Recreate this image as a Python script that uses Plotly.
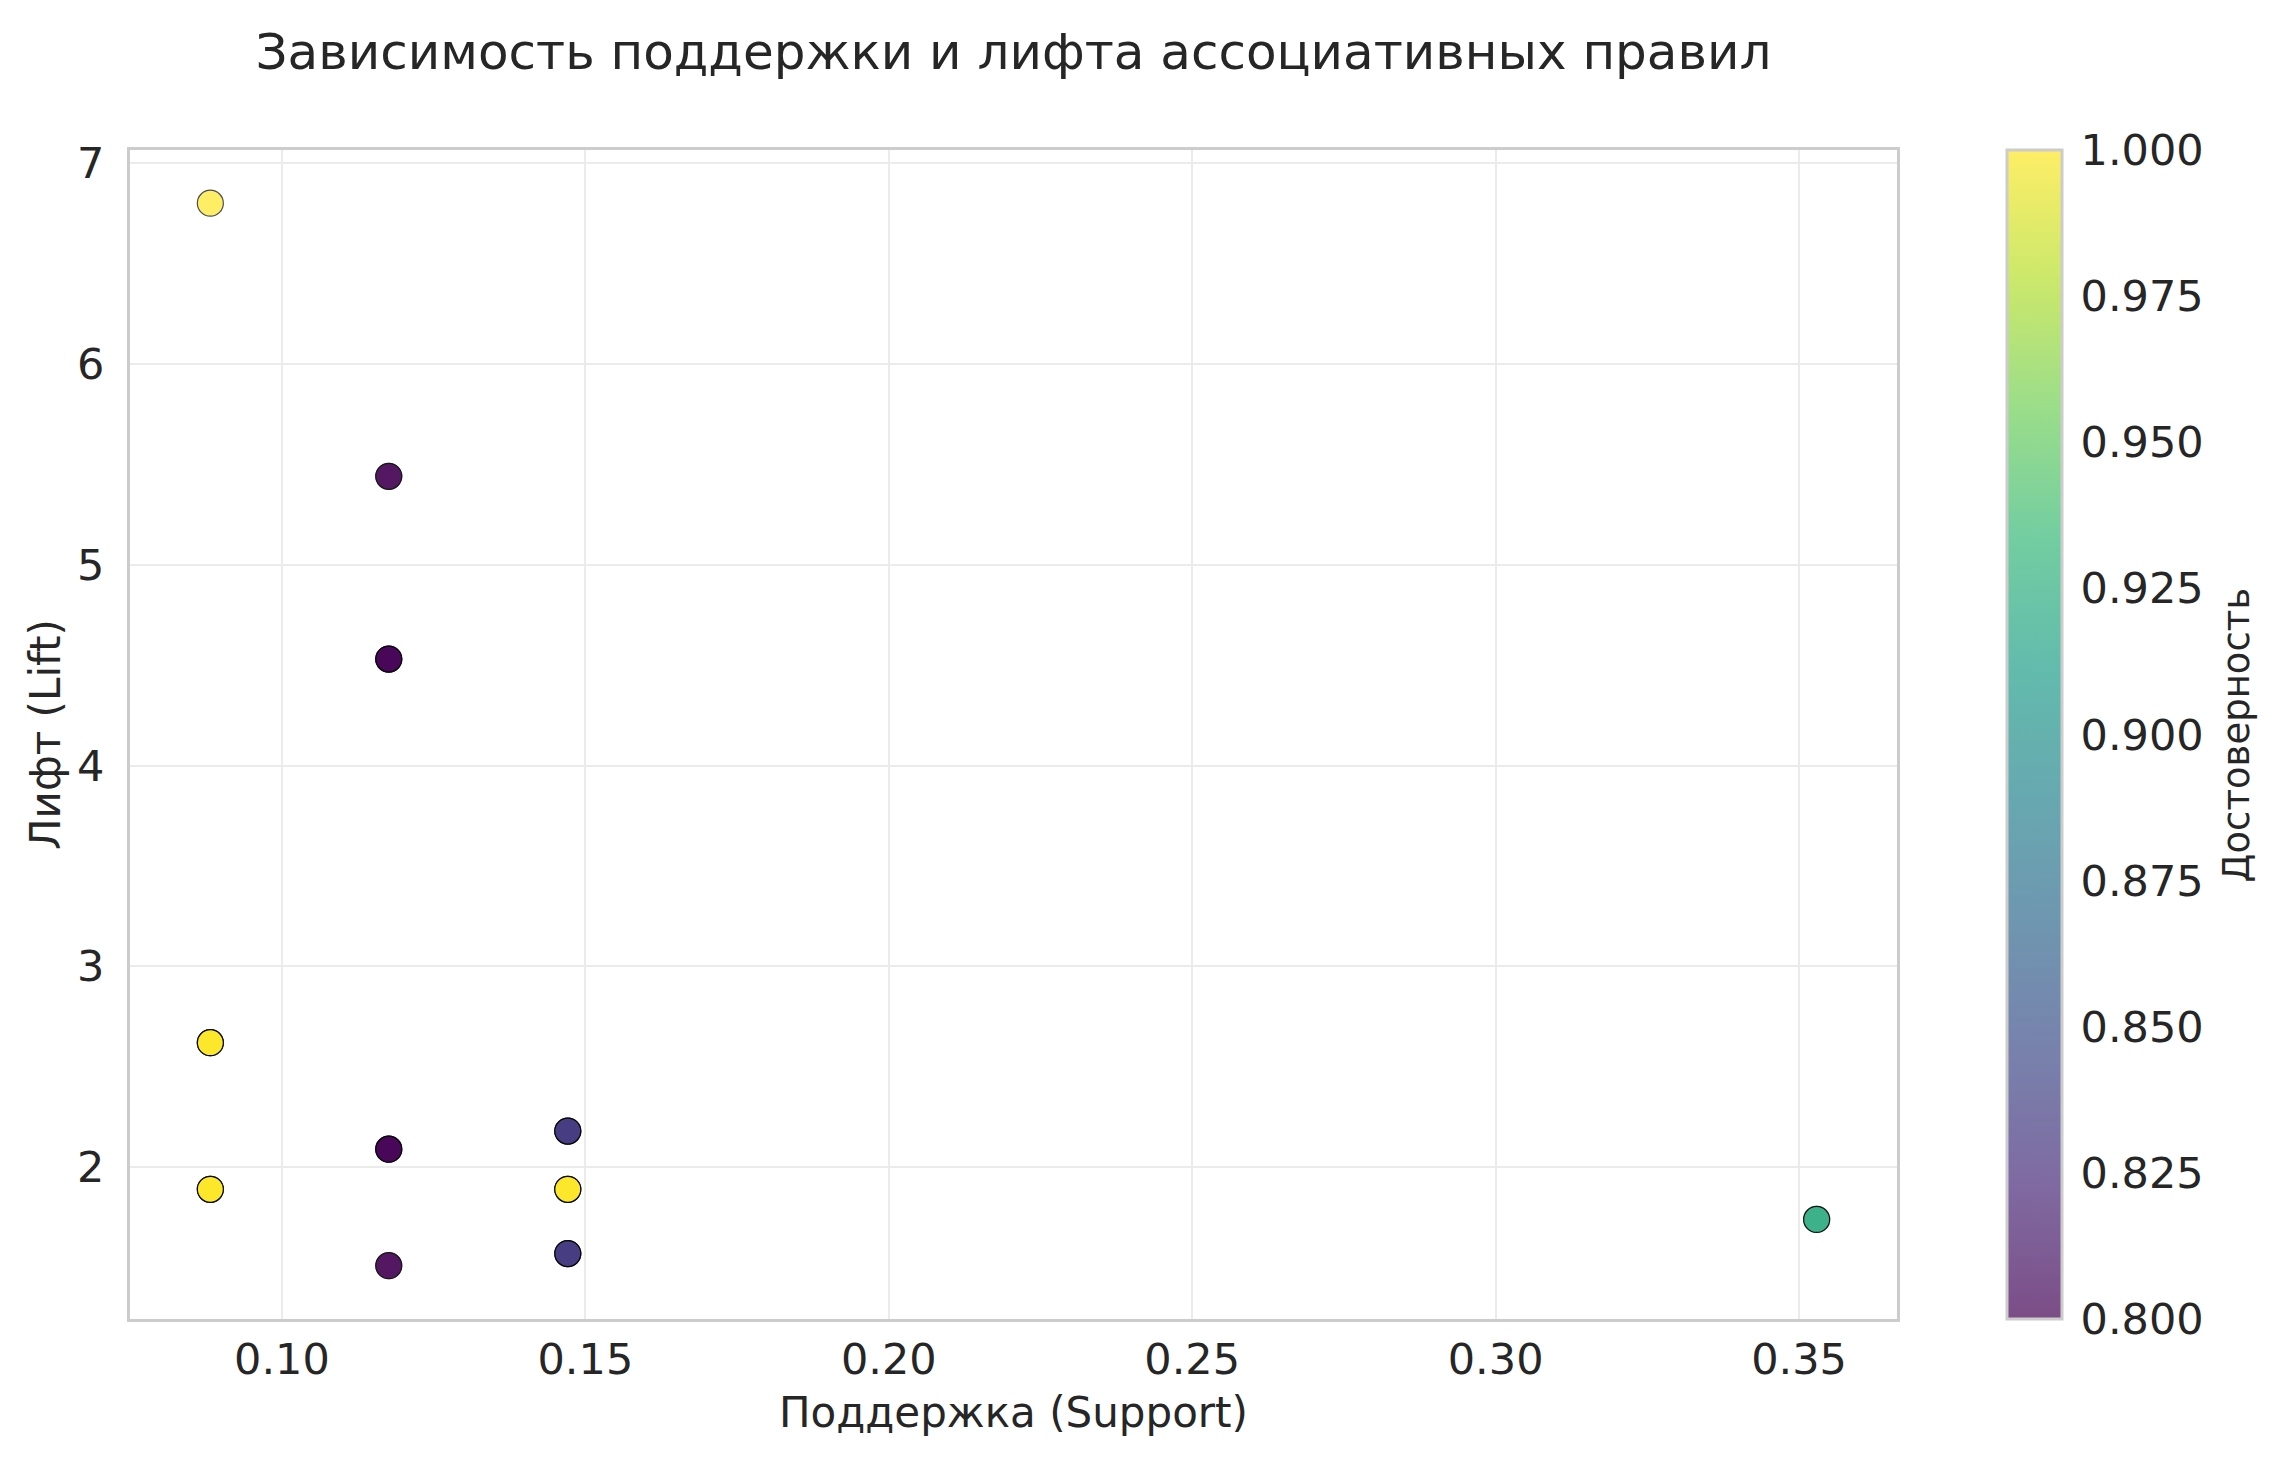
import plotly.graph_objects as go
from plotly.colors import sequential, hex_to_rgb

# правила: поддержка, лифт, достоверность (совпадающие правила повторены)
support = [0.0882, 0.1176, 0.1176, 0.1176, 0.1176, 0.1176,
           0.0882, 0.0882, 0.0882, 0.1176, 0.1176, 0.1176,
           0.1471, 0.1471, 0.1471, 0.0882, 0.0882, 0.0882,
           0.1471, 0.1471, 0.1471, 0.1176, 0.1176,
           0.1471, 0.1471, 0.1471, 0.3529, 0.3529]
lift = [6.80, 5.44, 5.44, 4.53, 4.53, 4.53,
        2.62, 2.62, 2.62, 2.09, 2.09, 2.09,
        2.18, 2.18, 2.18, 1.89, 1.89, 1.89,
        1.89, 1.89, 1.89, 1.51, 1.51,
        1.57, 1.57, 1.57, 1.74, 1.74]
confidence = [1.0, 0.8, 0.8, 0.8, 0.8, 0.8,
              1.0, 1.0, 1.0, 0.8, 0.8, 0.8,
              0.8333, 0.8333, 0.8333, 1.0, 1.0, 1.0,
              1.0, 1.0, 1.0, 0.8, 0.8,
              0.8333, 0.8333, 0.8333, 0.9231, 0.9231]

x_ticks = [0.10, 0.15, 0.20, 0.25, 0.30, 0.35]
y_ticks = [2, 3, 4, 5, 6, 7]
cbar_ticks = [0.8, 0.825, 0.85, 0.875, 0.9, 0.925, 0.95, 0.975, 1.0]

font = "DejaVu Sans"
text_col = "#262626"
alpha = 0.7

# выцветшая шкала для цветовой полосы (как alpha в matplotlib)
vir = sequential.Viridis
faded = []
for i, c in enumerate(vir):
    r, g, b = hex_to_rgb(c)
    r = round(alpha * r + (1 - alpha) * 255)
    g = round(alpha * g + (1 - alpha) * 255)
    b = round(alpha * b + (1 - alpha) * 255)
    faded.append([i / (len(vir) - 1), f"rgb({r},{g},{b})"])

fig = go.Figure()
fig.add_trace(go.Scatter(
    x=support, y=lift, mode="markers",
    marker=dict(size=26, color=confidence, colorscale="Viridis",
                cmin=0.8, cmax=1.0, opacity=alpha,
                line=dict(color="black", width=1.2)),
    showlegend=False, hoverinfo="x+y"))

# цветовая полоса
fig.add_trace(go.Scatter(
    x=[None], y=[None], mode="markers", showlegend=False,
    marker=dict(color=[0.8], colorscale=faded, cmin=0.8, cmax=1.0, showscale=True,
                colorbar=dict(
                    x=1.0622, xanchor="left", xpad=0, ypad=0,
                    y=0.5, len=1, thickness=55,
                    outlinecolor="#cccccc", outlinewidth=3,
                    tickvals=cbar_ticks, tickformat=".3f",
                    ticks="outside", ticklen=9, tickcolor="rgba(0,0,0,0)",
                    tickfont=dict(family=font, size=43, color=text_col)))))

fig.add_annotation(text="Достоверность", textangle=-90, showarrow=False,
                   xref="paper", yref="paper", x=1.1924, y=0.5,
                   xanchor="center", yanchor="middle",
                   font=dict(family=font, size=37, color=text_col))

fig.update_layout(
    width=2283, height=1465,
    margin=dict(l=130, r=386, t=150, b=146),
    paper_bgcolor="white", plot_bgcolor="white",
    font=dict(family=font, color=text_col),
    title=dict(text="Зависимость поддержки и лифта ассоциативных правил",
               x=0.5, xref="paper", y=1 - 51 / 1465, yref="container",
               yanchor="middle", font=dict(family=font, size=50, color=text_col)),
)
fig.update_xaxes(
    range=[0.07496, 0.36614], tickvals=x_ticks, tickformat=".2f",
    showgrid=True, gridcolor="#ebebeb", gridwidth=2, zeroline=False,
    showline=True, linecolor="#cccccc", linewidth=3, mirror=True,
    ticks="", tickfont=dict(family=font, size=43, color=text_col),
    title=dict(text="Поддержка (Support)", standoff=16,
               font=dict(family=font, size=42, color=text_col)))
fig.update_yaxes(
    range=[1.2444, 7.0646], tickvals=y_ticks,
    showgrid=True, gridcolor="#ebebeb", gridwidth=2, zeroline=False,
    showline=True, linecolor="#cccccc", linewidth=3, mirror=True,
    ticks="", ticklabelstandoff=14, tickfont=dict(family=font, size=43, color=text_col),
    title=dict(text="Лифт (Lift)", standoff=4,
               font=dict(family=font, size=42, color=text_col)))

fig.write_html("out.html", config={"displayModeBar": False},
               post_script="document.body.style.margin='0';")
